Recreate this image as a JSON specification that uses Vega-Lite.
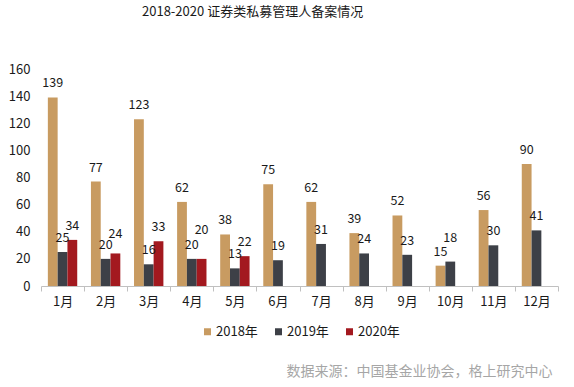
{
  "$schema": "https://vega.github.io/schema/vega-lite/v6.json",
  "autosize": "none",
  "width": 517,
  "height": 217,
  "padding": {"left": 41, "top": 69, "right": 16, "bottom": 101},
  "background": "white",
  "title": {
    "text": "2018-2020 证券类私募管理人备案情况",
    "anchor": "start",
    "frame": "group",
    "dx": 101,
    "offset": 44,
    "font": "Noto Sans CJK SC",
    "fontSize": 13,
    "fontWeight": "normal",
    "color": "#1a1a1a"
  },
  "config": {
    "view": {"stroke": null},
    "font": "Noto Sans CJK SC"
  },
  "data": {
    "values": [
      {"month": "1月", "year": "2018年", "value": 139},
      {"month": "2月", "year": "2018年", "value": 77},
      {"month": "3月", "year": "2018年", "value": 123},
      {"month": "4月", "year": "2018年", "value": 62},
      {"month": "5月", "year": "2018年", "value": 38},
      {"month": "6月", "year": "2018年", "value": 75},
      {"month": "7月", "year": "2018年", "value": 62},
      {"month": "8月", "year": "2018年", "value": 39},
      {"month": "9月", "year": "2018年", "value": 52},
      {"month": "10月", "year": "2018年", "value": 15},
      {"month": "11月", "year": "2018年", "value": 56},
      {"month": "12月", "year": "2018年", "value": 90},
      {"month": "1月", "year": "2019年", "value": 25},
      {"month": "2月", "year": "2019年", "value": 20},
      {"month": "3月", "year": "2019年", "value": 16},
      {"month": "4月", "year": "2019年", "value": 20},
      {"month": "5月", "year": "2019年", "value": 13},
      {"month": "6月", "year": "2019年", "value": 19},
      {"month": "7月", "year": "2019年", "value": 31},
      {"month": "8月", "year": "2019年", "value": 24},
      {"month": "9月", "year": "2019年", "value": 23},
      {"month": "10月", "year": "2019年", "value": 18},
      {"month": "11月", "year": "2019年", "value": 30},
      {"month": "12月", "year": "2019年", "value": 41},
      {"month": "1月", "year": "2020年", "value": 34},
      {"month": "2月", "year": "2020年", "value": 24},
      {"month": "3月", "year": "2020年", "value": 33},
      {"month": "4月", "year": "2020年", "value": 20},
      {"month": "5月", "year": "2020年", "value": 22}
    ]
  },
  "encoding": {
    "x": {
      "field": "month",
      "type": "nominal",
      "sort": ["1月","2月","3月","4月","5月","6月","7月","8月","9月","10月","11月","12月"],
      "scale": {"paddingInner": 0, "paddingOuter": 0},
      "axis": {
        "title": "数据来源：中国基金业协会，格上研究中心",
        "titleX": 511,
        "titleY": 85,
        "titleAlign": "right",
        "titleAnchor": null,
        "titleBaseline": "middle",
        "titleFontSize": 14,
        "titleFontWeight": "normal",
        "titleColor": "#a6a6a6",
        "titleFont": "Noto Sans CJK SC",
        "labelAngle": 0,
        "labelFontSize": 13,
        "labelColor": "#1a1a1a",
        "labelFont": "Noto Sans CJK SC",
        "labelPadding": 4,
        "domainColor": "#c0c0c0",
        "tickColor": "#c0c0c0",
        "tickSize": 5,
        "tickBand": "extent",
        "grid": false
      }
    },
    "xOffset": {
      "field": "year",
      "type": "nominal",
      "scale": {"domain": ["2018年", "2019年", "2020年"], "paddingInner": 0, "paddingOuter": 0.7}
    },
    "y": {
      "field": "value",
      "type": "quantitative",
      "scale": {"domain": [0, 160]},
      "axis": {
        "title": null,
        "values": [0, 20, 40, 60, 80, 100, 120, 140, 160],
        "domain": false,
        "ticks": false,
        "grid": false,
        "labelPadding": 11,
        "labelFontSize": 13,
        "labelColor": "#1a1a1a",
        "labelFont": "Noto Sans CJK SC"
      }
    }
  },
  "layer": [
    {
      "mark": {"type": "bar"},
      "encoding": {
        "color": {
          "field": "year",
          "type": "nominal",
          "scale": {"domain": ["2018年", "2019年", "2020年"], "range": ["#c89b61", "#3d4047", "#a3191f"]},
          "legend": {
            "title": null,
            "orient": "none",
            "legendX": 160,
            "legendY": 256,
            "direction": "horizontal",
            "symbolType": "square",
            "symbolSize": 49,
            "symbolStrokeWidth": 0,
            "labelFontSize": 13,
            "labelColor": "#1a1a1a",
            "labelFont": "Noto Sans CJK SC",
            "labelOffset": 2,
            "columnPadding": 14
          }
        }
      }
    },
    {
      "transform": [{"filter": "!((datum.month == '4月' && datum.year == '2020年') || (datum.month == '2月' && datum.year == '2020年') || (datum.month == '10月' && datum.year == '2019年'))"}],
      "mark": {"type": "text", "baseline": "alphabetic", "dy": -10, "fontSize": 12.5, "color": "#1a1a1a", "font": "Noto Sans CJK SC"},
      "encoding": {"text": {"field": "value", "type": "quantitative"}}
    },
    {
      "transform": [{"filter": "datum.month == '2月' && datum.year == '2020年'"}],
      "mark": {"type": "text", "baseline": "alphabetic", "dy": -15, "fontSize": 12.5, "color": "#1a1a1a", "font": "Noto Sans CJK SC"},
      "encoding": {"text": {"field": "value", "type": "quantitative"}}
    },
    {
      "transform": [{"filter": "datum.month == '10月' && datum.year == '2019年'"}],
      "mark": {"type": "text", "baseline": "alphabetic", "dy": -20, "fontSize": 12.5, "color": "#1a1a1a", "font": "Noto Sans CJK SC"},
      "encoding": {"text": {"field": "value", "type": "quantitative"}}
    },
    {
      "transform": [{"filter": "datum.month == '4月' && datum.year == '2020年'"}],
      "mark": {"type": "text", "baseline": "alphabetic", "dy": -25, "fontSize": 12.5, "color": "#1a1a1a", "font": "Noto Sans CJK SC"},
      "encoding": {"text": {"field": "value", "type": "quantitative"}}
    }
  ]
}
